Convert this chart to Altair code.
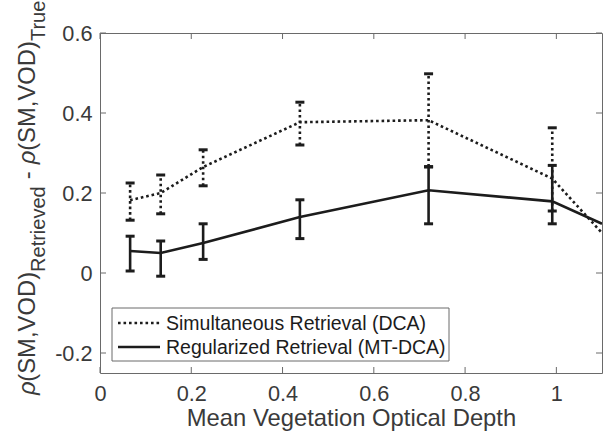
import altair as alt
import pandas as pd

# Mean vegetation optical depth of each bin
vod = [0.066, 0.133, 0.226, 0.438, 0.720, 0.991]
vod_edge = 1.1

# Simultaneous retrieval (DCA): mean bias and error-bar limits
dca_mean = [0.182, 0.200, 0.265, 0.377, 0.382, 0.236]
dca_lo = [0.132, 0.148, 0.218, 0.320, 0.266, 0.155]
dca_hi = [0.225, 0.245, 0.308, 0.427, 0.498, 0.363]
dca_edge = 0.100

# Regularized retrieval (MT-DCA): mean bias and error-bar limits
mt_mean = [0.055, 0.050, 0.075, 0.140, 0.207, 0.179]
mt_lo = [0.005, -0.008, 0.034, 0.086, 0.123, 0.123]
mt_hi = [0.092, 0.080, 0.123, 0.183, 0.265, 0.269]
mt_edge = 0.123

x_ticks = [0, 0.2, 0.4, 0.6, 0.8, 1.0]
y_ticks = [-0.2, 0, 0.2, 0.4, 0.6]

series_names = ["Simultaneous Retrieval (DCA)", "Regularized Retrieval (MT-DCA)"]

W, H = 502, 340
FONT = "Liberation Sans"
INK = "#1c1c1c"
AXIS_TXT = "#3a3a3a"
BOX = "#6a6a6a"
DOT = [2.6, 2.9]
TICK_FS = 21.7
LABEL_FS = 23.8
LEGEND_FS = 19.5

xs = alt.Scale(domain=[0, 1.1], nice=False, zero=False)
ys = alt.Scale(domain=[-0.25, 0.6], nice=False, zero=False)

x_axis = alt.Axis(values=x_ticks, title="Mean Vegetation Optical Depth", ticks=False,
                  domain=False, grid=False, labelFontSize=TICK_FS, labelPadding=10,
                  labelFlush=False, labelFont=FONT, labelColor=AXIS_TXT, titleFont=FONT,
                  titleFontSize=LABEL_FS, titleFontWeight="normal", titleColor=AXIS_TXT,
                  titleBaseline="alphabetic", titleY=52,
                  labelExpr="replace(format(datum.value, '~g'), '\u2212', '-')")
y_axis = alt.Axis(values=y_ticks, title=None, ticks=False, domain=False, grid=False,
                  labelFontSize=TICK_FS, labelPadding=8, labelFont=FONT,
                  labelColor=AXIS_TXT,
                  labelExpr="replace(format(datum.value, '~g'), '\u2212', '-')")


def series_frames(mean, lo, hi, edge):
    line = pd.DataFrame({"x": vod + [vod_edge], "y": mean + [edge]})
    bars = pd.DataFrame({"x": vod, "lo": lo, "hi": hi})
    return line, bars


def series_layers(line_df, bar_df, dash):
    extra = {"strokeDash": dash} if dash else {}
    line = alt.Chart(line_df).mark_line(color=INK, strokeWidth=2.6, strokeCap="butt",
                                        clip=True, **extra).encode(
        x=alt.X("x:Q", scale=xs, axis=x_axis), y=alt.Y("y:Q", scale=ys, axis=y_axis))
    stem = alt.Chart(bar_df).mark_rule(color=INK, strokeWidth=2.6, strokeCap="butt",
                                       **extra).encode(
        x=alt.X("x:Q", scale=xs), y=alt.Y("lo:Q", scale=ys), y2="hi:Q")
    cap_lo = alt.Chart(bar_df).mark_tick(color=INK, orient="horizontal", size=9,
                                         thickness=3, opacity=1).encode(
        x=alt.X("x:Q", scale=xs), y=alt.Y("lo:Q", scale=ys))
    cap_hi = alt.Chart(bar_df).mark_tick(color=INK, orient="horizontal", size=9,
                                         thickness=3, opacity=1).encode(
        x=alt.X("x:Q", scale=xs), y=alt.Y("hi:Q", scale=ys))
    return [line, stem, cap_lo, cap_hi]


dca_line, dca_bars = series_frames(dca_mean, dca_lo, dca_hi, dca_edge)
mt_line, mt_bars = series_frames(mt_mean, mt_lo, mt_hi, mt_edge)

# Inward tick marks on all four sides of the box
xt = pd.DataFrame({"t": x_ticks})
yt = pd.DataFrame({"t": y_ticks})
TL = 6
tick_layers = [
    alt.Chart(xt).mark_rule(color=BOX, strokeWidth=1).encode(
        x=alt.X("t:Q", scale=xs), y=alt.value(H), y2=alt.value(H - TL)),
    alt.Chart(xt).mark_rule(color=BOX, strokeWidth=1).encode(
        x=alt.X("t:Q", scale=xs), y=alt.value(0), y2=alt.value(TL)),
    alt.Chart(yt).mark_rule(color=BOX, strokeWidth=1).encode(
        y=alt.Y("t:Q", scale=ys), x=alt.value(0), x2=alt.value(TL)),
    alt.Chart(yt).mark_rule(color=BOX, strokeWidth=1).encode(
        y=alt.Y("t:Q", scale=ys), x=alt.value(W), x2=alt.value(W - TL)),
]

one = pd.DataFrame({"k": [0]})

# Rotated y-axis title with subscripts, laid out segment by segment
# (text, font size, style, baseline drop, extra gap after the segment)
ADV = {"ρ": 0.56, "(": 0.333, "S": 0.667, "M": 0.833, ",": 0.278, "V": 0.667,
       "O": 0.778, "D": 0.722, ")": 0.333, "R": 0.722, "e": 0.556, "t": 0.278,
       "r": 0.333, "i": 0.222, "v": 0.5, "d": 0.556, "-": 0.333,
       "T": 0.611, "u": 0.556}
SUB_FS = 20
GAP = 0.3 * LABEL_FS
segments = [
    ("ρ", LABEL_FS, "italic", 0, 0), ("(SM,VOD)", LABEL_FS, "normal", 0, 0),
    ("Retrieved", SUB_FS, "normal", 10, GAP),
    ("-", LABEL_FS, "normal", 0, GAP),
    ("ρ", LABEL_FS, "italic", 0, 0), ("(SM,VOD)", LABEL_FS, "normal", 0, 0),
    ("True", SUB_FS, "normal", 10, 0),
]
title_layers = []
pos = 395 - 33
base_x = 35 - 100
for txt, size, style, drop, gap in segments:
    title_layers.append(
        alt.Chart(one).mark_text(angle=270, align="left", baseline="alphabetic",
                                 font=FONT, fontSize=size, fontStyle=style,
                                 color=AXIS_TXT).encode(
            x=alt.value(base_x + drop), y=alt.value(pos), text=alt.value(txt)))
    pos -= sum(ADV.get(c, 0.55) for c in txt) * size + gap

# Legend box
LX0, LX1, LY0, LY1 = 12, 349, 275, 328
legend_layers = [
    alt.Chart(one).mark_rect(fill="white", stroke=BOX, strokeWidth=1).encode(
        x=alt.value(LX0), x2=alt.value(LX1), y=alt.value(LY0), y2=alt.value(LY1)),
]
for i, (name, dash) in enumerate(zip(series_names, [DOT, None])):
    yy = 290 + 24 * i
    extra = {"strokeDash": dash} if dash else {}
    legend_layers.append(
        alt.Chart(one).mark_rule(color=INK, strokeWidth=2.6, strokeCap="butt", **extra).encode(
            x=alt.value(18), x2=alt.value(60), y=alt.value(yy)))
    legend_layers.append(
        alt.Chart(one).mark_text(align="left", baseline="middle", font=FONT,
                                 fontSize=LEGEND_FS, color=INK).encode(
            x=alt.value(66), y=alt.value(yy + 1), text=alt.value(name)))

layers = (tick_layers
          + series_layers(dca_line, dca_bars, DOT)
          + series_layers(mt_line, mt_bars, None)
          + title_layers + legend_layers)

chart = alt.layer(*layers).properties(
    width=W, height=H, autosize="none",
    padding={"left": 100, "top": 33, "right": 3, "bottom": 63},
    background="white",
).configure_view(stroke=BOX, strokeWidth=1)

chart.save("out.html", embed_options={"renderer": "svg", "actions": False})
